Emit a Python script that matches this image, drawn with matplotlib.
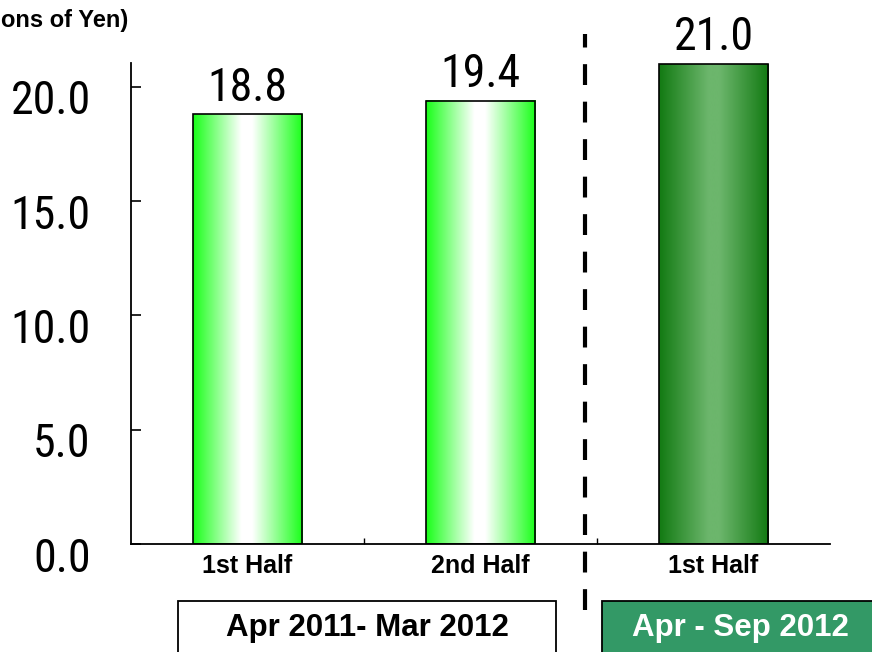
import matplotlib.pyplot as plt
import matplotlib.transforms as mtransforms
from matplotlib import font_manager
from matplotlib.patches import Rectangle
import numpy as np

# sales by half-year, billions of yen
periods = ['1st Half', '2nd Half', '1st Half']
sales = [18.8, 19.4, 21.0]
yticks = [0.0, 5.0, 10.0, 15.0, 20.0]
fiscal_labels = ['Apr 2011- Mar 2012', 'Apr - Sep 2012']

plt.rcParams['font.family'] = ['Liberation Sans', 'DejaVu Sans']

# numbers use a narrow upright face if one is installed
narrow_file = None
for pref in ['Liberation Sans Narrow', 'Arial Narrow', 'Roboto Condensed',
             'Open Sans Condensed', 'Noto Sans Condensed', 'DejaVu Sans Condensed']:
    for f in font_manager.fontManager.ttflist:
        if f.style != 'normal' or f.weight not in (400, 'normal', 'regular'):
            continue
        full = f.name + ' ' + str(f.stretch)
        if f.name == pref or (pref.split()[-1].lower() in full.lower()
                              and pref.split()[0] in f.name):
            narrow_file = f.fname
            break
    if narrow_file:
        break
if narrow_file:
    num_font = dict(fontproperties=font_manager.FontProperties(fname=narrow_file, size=33))
else:
    num_font = dict(family=['Liberation Sans', 'DejaVu Sans'], fontsize=27)

fig = plt.figure(figsize=(8.72, 6.52), dpi=100)
ax = fig.add_axes([131/872, 108/652, 699/872, 481/652])

x = np.arange(len(sales))
width = 0.47

# horizontal colour ramps for the bar fills
def ramp(edge, mid, stops):
    t = np.linspace(0, 1, 200)
    edge = np.array(edge) / 255.0
    mid = np.array(mid) / 255.0
    w = np.interp(t, stops, [0, 1, 1, 0])
    return (edge[None, :] * (1 - w[:, None]) + mid[None, :] * w[:, None])[None, :, :]

light = ramp((25, 255, 25), (255, 255, 255), [0, 0.44, 0.54, 1])
dark = ramp((18, 122, 18), (108, 182, 108), [0, 0.45, 0.55, 1])

for i, v in enumerate(sales):
    img = dark if i == 2 else light
    ax.imshow(img, extent=[x[i] - width/2, x[i] + width/2, 0, v],
              aspect='auto', zorder=2, interpolation='bilinear')
    ax.bar(x[i], v, width, fill=False, edgecolor='black', linewidth=1.2, zorder=3)
    ax.annotate(f'{v:.1f}', (x[i], v), xytext=(0, 10), textcoords='offset points',
                ha='center', va='baseline', annotation_clip=False, **num_font)

ax.set_xlim(-0.5, 2.5)
ax.set_ylim(0, 21.05)

ax.set_yticks(yticks)
ax.set_yticklabels([f'{t:.1f}' for t in yticks], **num_font)
ax.tick_params(axis='y', direction='in', length=7, width=1.2, pad=29)
shift = mtransforms.ScaledTranslation(0, -10/100, fig.dpi_scale_trans)
for lab in ax.get_yticklabels():
    lab.set_transform(lab.get_transform() + shift)

ax.set_xticks(x)
ax.set_xticklabels(periods, fontsize=18, fontweight='bold')
ax.tick_params(axis='x', length=0, pad=7)
ax.set_xticks([0.5, 1.5], minor=True)
ax.tick_params(axis='x', which='minor', direction='in', length=4, width=1)

for side in ['top', 'right']:
    ax.spines[side].set_visible(False)
for side in ['left', 'bottom']:
    ax.spines[side].set_linewidth(1.3)

# divider between fiscal years
ax.axvline(1.45, ymin=-0.137, ymax=1.06, color='black', linewidth=3,
           linestyle=(0, (5, 4)), clip_on=False, zorder=4)

fig.text(128/872, 1 - 20/652, '(Billions of Yen)', ha='right', va='center',
         fontsize=17, fontweight='bold')

# fiscal period boxes
fig.patches.append(Rectangle((178/872, -0.02), 378/872, 0.02 + 51/652,
                             transform=fig.transFigure, facecolor='white',
                             edgecolor='black', linewidth=1.3))
fig.patches.append(Rectangle((602/872, -0.02), 280/872, 0.02 + 51/652,
                             transform=fig.transFigure, facecolor='#339966',
                             edgecolor='black', linewidth=1.3))
fig.text(367/872, 1 - 628/652, fiscal_labels[0], ha='center', va='center',
         fontsize=22.5, fontweight='bold')
fig.text(740/872, 1 - 628/652, fiscal_labels[1], ha='center', va='center',
         fontsize=22.5, fontweight='bold', color='white')

fig.savefig('out.png', dpi=100)
